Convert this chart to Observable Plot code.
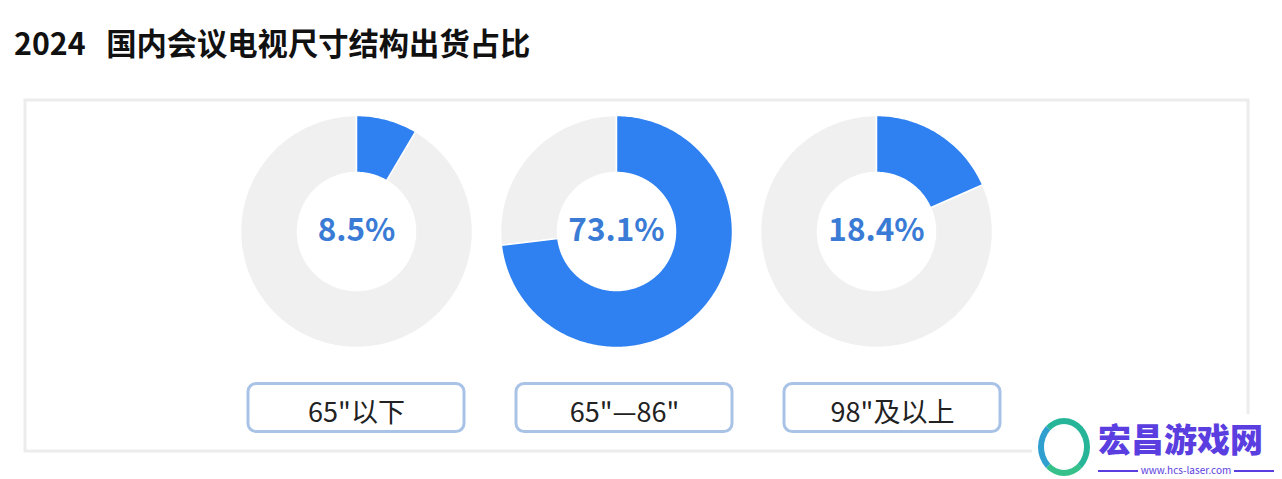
<!DOCTYPE html>
<html>
<head>
<meta charset="utf-8">
<script src="https://cdn.jsdelivr.net/npm/d3@7"></script>
<script src="https://cdn.jsdelivr.net/npm/@observablehq/plot@0.6"></script>
<style>
  html, body { margin: 0; padding: 0; background: #fff; width: 1282px; height: 479px; overflow: hidden; position: relative; }
  body { font-family: "Noto Sans CJK SC", "Noto Sans", sans-serif; }
  #title { position: absolute; left: 14px; top: 27px; font-size: 30.3px; line-height: 30px; font-weight: 700; color: #111; white-space: pre; }
  #chart { position: absolute; left: 0; top: 80px; }
  #wm { position: absolute; left: 1032px; top: 414px; width: 250px; height: 65px; background: #fff; }
  #wm .logo { position: absolute; left: 6px; top: 4px; width: 40px; height: 46px; border: 6px solid #27b59a; border-radius: 50%; border-left-color: #2f9fd0; border-bottom-color: #36c08a; }
  #wm .name { position: absolute; left: 66px; top: 8px; font-size: 33px; line-height: 32px; font-weight: 900; color: #5a3ee0; white-space: nowrap; }
  #wm .url { position: absolute; left: 66px; top: 50px; width: 176px; height: 12px; font-size: 10px; line-height: 12px; color: #5a3ee0; text-align: center; white-space: nowrap; }
  #wm .url span { background: #fff; padding: 0 3px; position: relative; }
  #wm .url:before { content: ""; position: absolute; left: 0; right: 0; top: 6px; border-top: 2px solid #5a3ee0; }
</style>
</head>
<body>
<div id="title">2024   国内会议电视尺寸结构出货占比</div>
<div id="chart"></div>
<div id="wm"><div class="logo"></div><div class="name">宏昌游戏网</div><div class="url"><span>www.hcs-laser.com</span></div></div>
<script>
// ---- data ----
const categories = ['65"以下', '65"—86"', '98"及以上'];
const shares = [8.5, 73.1, 18.4];
const shareLabels = ["8.5%", "73.1%", "18.4%"];

// ---- layout (page pixels) ----
const donutX0 = 356, donutStep = 260, donutY = 231;
const rOuter = 116, rInner = 59;
const boxX0 = 356, boxStep = 268, boxHalfW = 108, boxY1 = 383.5, boxY2 = 431.5;

// build donut slice polygons from the shares
function slicePolygon(cx, cy, a0, a1, key) {
  const pts = [];
  const n = Math.max(2, Math.ceil((a1 - a0) / (Math.PI / 180)));
  for (let k = 0; k <= n; k++) {
    const a = a0 + (a1 - a0) * k / n;
    pts.push({key, x: cx + rOuter * Math.sin(a), y: cy - rOuter * Math.cos(a)});
  }
  for (let k = n; k >= 0; k--) {
    const a = a0 + (a1 - a0) * k / n;
    pts.push({key, x: cx + rInner * Math.sin(a), y: cy - rInner * Math.cos(a)});
  }
  pts.push({...pts[0]});
  return pts;
}
const bluePts = [], grayPts = [];
categories.forEach((c, i) => {
  const cx = donutX0 + donutStep * i;
  const a = 2 * Math.PI * shares[i] / 100;
  bluePts.push(...slicePolygon(cx, donutY, 0, a, c + "-share"));
  grayPts.push(...slicePolygon(cx, donutY, a, 2 * Math.PI, c + "-rest"));
});
const centers = categories.map((c, i) => ({cat: c, label: shareLabels[i], x: donutX0 + donutStep * i, y: donutY}));
const boxes = categories.map((c, i) => ({cat: c, xc: boxX0 + boxStep * i}));

const chart = Plot.plot({
  width: 1282,
  height: 399,
  marginLeft: 24.5,
  marginRight: 34.5,
  marginTop: 19.5,
  marginBottom: 28.5,
  x: {domain: [24.5, 1247.5], axis: null},
  y: {domain: [450.5, 99.5], axis: null},
  style: {fontFamily: '"Noto Sans CJK SC", "Noto Sans", sans-serif', background: "#fff", overflow: "visible"},
  marks: [
    Plot.frame({stroke: "#ececec", strokeWidth: 3}),
    Plot.line(grayPts, {x: "x", y: "y", z: "key", fill: "#f0f0f0", stroke: "#fff", strokeWidth: 1.5, curve: "linear"}),
    Plot.line(bluePts, {x: "x", y: "y", z: "key", fill: "#2f80f1", stroke: "#fff", strokeWidth: 1.5, curve: "linear"}),
    Plot.text(centers, {x: "x", y: d => d.y + 9.5, text: "label", lineAnchor: "bottom", fontSize: 31.5, fontWeight: 700, fill: "#3a7bd6"}),
    Plot.rect(boxes, {x1: d => d.xc - boxHalfW, x2: d => d.xc + boxHalfW, y1: boxY1, y2: boxY2, fill: "#fff", stroke: "#a9c3e7", strokeWidth: 3, rx: 8}),
    Plot.text(boxes, {x: "xc", y: 421, text: "cat", lineAnchor: "bottom", fontSize: 27, fontWeight: 400, fill: "#222"})
  ]
});
document.getElementById("chart").appendChild(chart);
</script>
</body>
</html>
